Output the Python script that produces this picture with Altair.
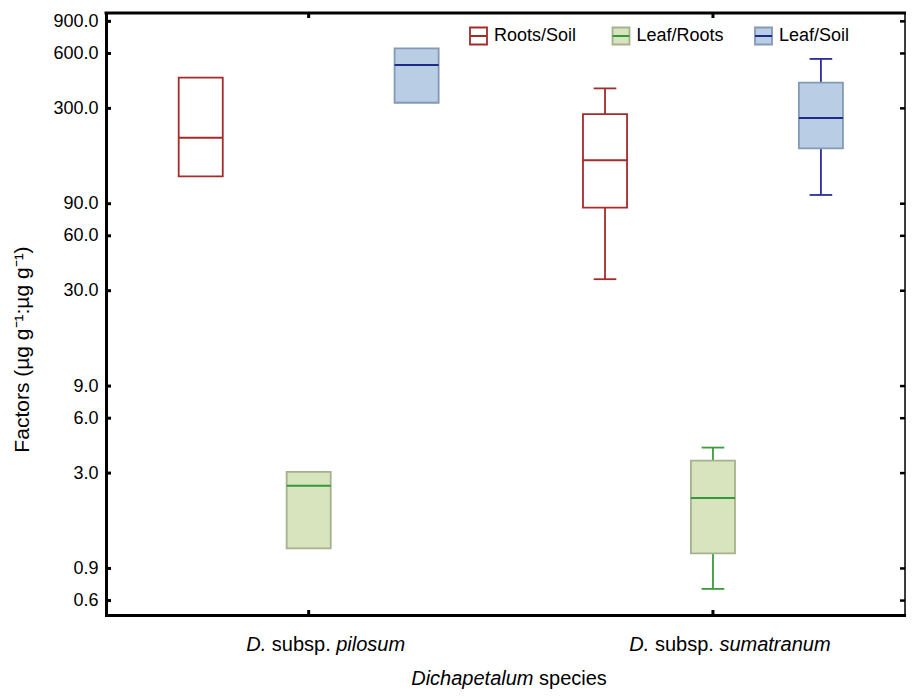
import altair as alt
import pandas as pd

# ---------------- data ----------------
species = ["D. subsp. pilosum", "D. subsp. sumatranum"]
species_epithet = ["pilosum", "sumatranum"]
series = ["Roots/Soil", "Leaf/Roots", "Leaf/Soil"]

roots_soil_min = [127, 34.7]
roots_soil_q1 = [127, 85.6]
roots_soil_med = [207, 156]
roots_soil_q3 = [442, 279]
roots_soil_max = [442, 386]

leaf_roots_min = [1.16, 0.695]
leaf_roots_q1 = [1.16, 1.09]
leaf_roots_med = [2.56, 2.19]
leaf_roots_q3 = [3.05, 3.51]
leaf_roots_max = [3.05, 4.14]

leaf_soil_min = [322, 100.5]
leaf_soil_q1 = [322, 181]
leaf_soil_med = [519, 266]
leaf_soil_q3 = [640, 415]
leaf_soil_max = [640, 560]

y_ticks = [0.6, 0.9, 3, 6, 9, 30, 60, 90, 300, 600, 900]

# ---------------- styles / layout ----------------
W, H = 799, 602
FONT = "Liberation Sans"
FS = 18
FS_X = 20
FS_YT = 21

box_fill = ["#ffffff", "#d7e4bd", "#b9cde5"]
box_edge = ["#a52a2a", "#a5b28d", "#8499b6"]
line_col = ["#a52a2a", "#2f9a37", "#1c2a8c"]
whisk_col = ["#a52a2a", "#3a9e3a", "#2d2d9e"]

offsets = {"Roots/Soil": -0.267, "Leaf/Roots": 0.0, "Leaf/Soil": 0.267}
HALF_BOX = 0.0545
HALF_CAP = 0.028
X_DOMAIN = [0.4987, 2.475]

stats = {
    "Roots/Soil": (roots_soil_min, roots_soil_q1, roots_soil_med, roots_soil_q3, roots_soil_max),
    "Leaf/Roots": (leaf_roots_min, leaf_roots_q1, leaf_roots_med, leaf_roots_q3, leaf_roots_max),
    "Leaf/Soil": (leaf_soil_min, leaf_soil_q1, leaf_soil_med, leaf_soil_q3, leaf_soil_max),
}

rows = []
for gi, sp in enumerate(species):
    for s in series:
        mn, q1, md, q3, mx = [arr[gi] for arr in stats[s]]
        c = gi + 1 + offsets[s]
        rows.append(dict(species=sp, series=s, x=c, xl=c - HALF_BOX, xr=c + HALF_BOX,
                         cl=c - HALF_CAP, cr=c + HALF_CAP,
                         lo=mn, q1=q1, median=md, q3=q3, hi=mx))
df = pd.DataFrame(rows)

xscale = alt.Scale(domain=X_DOMAIN, nice=False, zero=False)
yscale = alt.Scale(type="log", domain=[0.5, 1000], nice=False)


def sc(rng):
    return alt.Scale(domain=series, range=rng)


x_axis = alt.Axis(values=[1, 2], labels=False, ticks=False, title=None, grid=False,
                  domainWidth=3, domainColor="black", domainCap="square")
y_axis = alt.Axis(values=y_ticks, format=".1f", labelFontSize=FS, labelFont=FONT,
                  labelColor="black", ticks=False, labelPadding=8, grid=False,
                  domainWidth=3, domainColor="black", domainCap="square",
                  title="Factors (µg g⁻¹:µg g⁻¹)", titleFontSize=FS_YT, titleFont=FONT,
                  titleFontWeight="normal", titleColor="black",
                  titleX=-84, titleY=336, titleAngle=270, titleAlign="center",
                  titleBaseline="middle")


def X(f):
    return alt.X(f, scale=xscale, axis=x_axis)


def Y(f):
    return alt.Y(f, scale=yscale, axis=y_axis)


base = alt.Chart(df)
SW = 1.8

whisk_hi = base.transform_filter("datum.hi > datum.q3").mark_rule(strokeWidth=SW).encode(
    x=X("x:Q"), y=Y("q3:Q"), y2="hi:Q",
    stroke=alt.Stroke("series:N", scale=sc(whisk_col), legend=None))
whisk_lo = base.transform_filter("datum.lo < datum.q1").mark_rule(strokeWidth=SW).encode(
    x=X("x:Q"), y=Y("lo:Q"), y2="q1:Q",
    stroke=alt.Stroke("series:N", scale=sc(whisk_col), legend=None))
cap_hi = base.transform_filter("datum.hi > datum.q3").mark_rule(strokeWidth=SW).encode(
    x=X("cl:Q"), x2="cr:Q", y=Y("hi:Q"),
    stroke=alt.Stroke("series:N", scale=sc(whisk_col), legend=None))
cap_lo = base.transform_filter("datum.lo < datum.q1").mark_rule(strokeWidth=SW).encode(
    x=X("cl:Q"), x2="cr:Q", y=Y("lo:Q"),
    stroke=alt.Stroke("series:N", scale=sc(whisk_col), legend=None))
boxes = base.mark_rect(strokeWidth=SW).encode(
    x=X("xl:Q"), x2="xr:Q", y=Y("q1:Q"), y2="q3:Q",
    fill=alt.Fill("series:N", scale=sc(box_fill), legend=None),
    stroke=alt.Stroke("series:N", scale=sc(box_edge), legend=None))
medians = base.mark_rule(strokeWidth=2).encode(
    x=X("xl:Q"), x2="xr:Q", y=Y("median:Q"),
    stroke=alt.Stroke("series:N", scale=sc(line_col), legend=None))

# inward ticks on all four sides
tick_df = pd.DataFrame({"v": y_ticks})
left_ticks = alt.Chart(tick_df).mark_rule(strokeWidth=3, color="black").encode(
    y=Y("v:Q"), x=alt.value(0), x2=alt.value(5))
right_ticks = alt.Chart(tick_df).mark_rule(strokeWidth=2.5, color="black").encode(
    y=Y("v:Q"), x=alt.value(W - 5), x2=alt.value(W))
grp_df = pd.DataFrame({"g": [1, 2]})
bottom_ticks = alt.Chart(grp_df).mark_rule(strokeWidth=3, color="black").encode(
    x=X("g:Q"), y=alt.value(H - 5), y2=alt.value(H))
top_ticks = alt.Chart(grp_df).mark_rule(strokeWidth=3, color="black").encode(
    x=X("g:Q"), y=alt.value(0), y2=alt.value(5))

one = pd.DataFrame({"a": [0]})
top_border = alt.Chart(one).mark_rule(strokeWidth=3, color="black", strokeCap="square").encode(
    x=alt.value(0), x2=alt.value(W), y=alt.value(0))
right_border = alt.Chart(one).mark_rule(strokeWidth=1.5, color="black").encode(
    x=alt.value(W), y=alt.value(0), y2=alt.value(H))

# legend (manual, one entry per series)
legend_layers = []
LX0, LSTEP, LY = 364, 142.5, 23
for i, s in enumerate(series):
    lx = LX0 + i * LSTEP
    d = pd.DataFrame({"series": [s]})
    legend_layers.append(alt.Chart(d).mark_rect(fill=box_fill[i], stroke=box_edge[i], strokeWidth=SW).encode(
        x=alt.value(lx), x2=alt.value(lx + 17), y=alt.value(LY - 8.5), y2=alt.value(LY + 8.5)))
    legend_layers.append(alt.Chart(d).mark_rule(stroke=line_col[i], strokeWidth=2).encode(
        x=alt.value(lx), x2=alt.value(lx + 17), y=alt.value(LY)))
    legend_layers.append(alt.Chart(d).mark_text(align="left", baseline="middle", font=FONT,
                                                fontSize=FS, color="black").encode(
        x=alt.value(lx + 24), y=alt.value(LY), text="series:N"))

# x labels / x title with mixed italic text
ARIAL = {'D': 722, '.': 278, ' ': 278, 's': 500, 'u': 556, 'b': 556, 'p': 556, 'i': 222,
         'l': 222, 'o': 556, 'm': 833, 'a': 556, 't': 278, 'r': 333, 'n': 556, 'c': 500,
         'h': 556, 'e': 556}


def tw(t, fs):
    return sum(ARIAL.get(ch, 556) for ch in t) * fs / 1000.0


def rich(pieces, cx, y, fs):
    gap = tw(" ", fs)
    total = sum(tw(t, fs) for t, _ in pieces) + gap * (len(pieces) - 1)
    x = cx - total / 2
    out = []
    for t, style in pieces:
        out.append(alt.Chart(one).mark_text(align="left", baseline="middle", font=FONT,
                                            fontSize=fs, fontStyle=style, color="black").encode(
            x=alt.value(x), y=alt.value(y), text=alt.value(t)))
        x += tw(t, fs) + gap
    return out


def gx(v):
    return (v - X_DOMAIN[0]) / (X_DOMAIN[1] - X_DOMAIN[0]) * W


text_layers = []
for gi, ep in enumerate(species_epithet):
    cx = gx(gi + 1) + 17
    text_layers += rich([("D.", "italic"), ("subsp.", "normal"), (ep, "italic")], cx, 632, FS_X)
text_layers += rich([("Dichapetalum", "italic"), ("species", "normal")], 403, 666, FS_X)

chart = alt.layer(
    whisk_hi, whisk_lo, cap_hi, cap_lo, boxes, medians,
    left_ticks, right_ticks, bottom_ticks, top_ticks, top_border, right_border,
    *legend_layers, *text_layers
).resolve_scale(stroke="independent", fill="independent").properties(
    width=W, height=H,
    autosize=alt.AutoSizeParams(type="none"),
    padding={"left": 98, "top": 5, "right": 1, "bottom": 74},
).configure_view(stroke=None).configure(background="white")

chart.save("out.html", embed_options={"renderer": "svg", "actions": False})
